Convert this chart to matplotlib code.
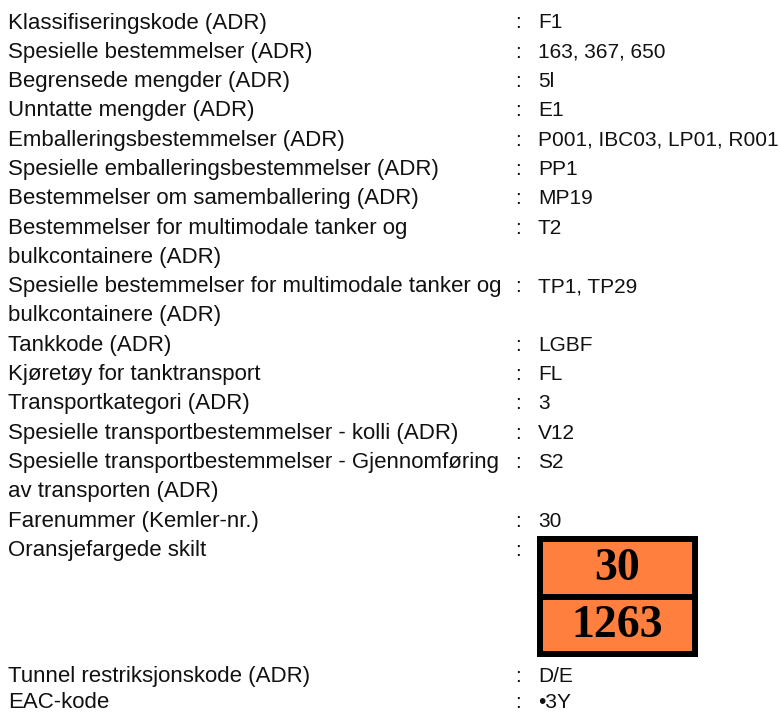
import matplotlib.pyplot as plt
from matplotlib.patches import Rectangle

labels = [
    "Klassifiseringskode (ADR)",
    "Spesielle bestemmelser (ADR)",
    "Begrensede mengder (ADR)",
    "Unntatte mengder (ADR)",
    "Emballeringsbestemmelser (ADR)",
    "Spesielle emballeringsbestemmelser (ADR)",
    "Bestemmelser om samemballering (ADR)",
    "Bestemmelser for multimodale tanker og\nbulkcontainere (ADR)",
    "Spesielle bestemmelser for multimodale tanker og\nbulkcontainere (ADR)",
    "Tankkode (ADR)",
    "Kjøretøy for tanktransport",
    "Transportkategori (ADR)",
    "Spesielle transportbestemmelser - kolli (ADR)",
    "Spesielle transportbestemmelser - Gjennomføring\nav transporten (ADR)",
    "Farenummer (Kemler-nr.)",
]
values = ["F1", "163, 367, 650", "5l", "E1", "P001, IBC03, LP01, R001", "PP1",
          "MP19", "T2", "TP1, TP29", "LGBF", "FL", "3", "V12", "S2", "30"]

sign_label = "Oransjefargede skilt"
sign_top = "30"
sign_bottom = "1263"

tail_labels = ["Tunnel restriksjonskode (ADR)", "EAC-kode"]
tail_values = ["D/E", "•3Y"]

W, H = 781, 713
fig = plt.figure(figsize=(W / 100, H / 100), dpi=100)
ax = fig.add_axes([0, 0, 1, 1])
ax.set_xlim(0, W)
ax.set_ylim(H, 0)
ax.axis("off")

lab_font = dict(family=["Liberation Sans", "DejaVu Sans"], fontsize=16, color="#111111", va="baseline")
val_font = dict(lab_font, fontsize=15)
x_label, x_colon, x_value = 8, 518, 538
row0, step, off = 21, 29.3, 7.5

def put(k, label, value):
    lines = label.split("\n")
    for j, line in enumerate(lines):
        ax.text(x_label, row0 + (k + j) * step + off, line, ha="left", **lab_font)
    y = row0 + k * step + off
    ax.text(x_colon, y, ":", ha="center", **val_font)
    if value:
        ax.text(x_value, y, value, ha="left", **val_font)
    return k + len(lines)

k = 0
for lab, val in zip(labels, values):
    k = put(k, lab, val)

# orange plate
put(k, sign_label, "")
sx0, sx1, sy0, sy1, b = 537, 698, 536, 657, 6
ax.add_patch(Rectangle((sx0, sy0), sx1 - sx0, sy1 - sy0, facecolor="black", edgecolor="none"))
mid = (sy0 + sy1) / 2
ax.add_patch(Rectangle((sx0 + b, sy0 + b), sx1 - sx0 - 2 * b, mid - b / 2 - sy0 - b,
                       facecolor="#FF7F3F", edgecolor="none"))
ax.add_patch(Rectangle((sx0 + b, mid + b / 2), sx1 - sx0 - 2 * b, sy1 - b - mid - b / 2,
                       facecolor="#FF7F3F", edgecolor="none"))
cx = (sx0 + sx1) / 2
serif = dict(family=["Liberation Serif", "DejaVu Serif"], fontsize=33, fontweight="bold",
             color="black", ha="center", va="center")
ax.text(cx, (sy0 + b + mid - b / 2) / 2 + 1, sign_top, **serif)
ax.text(cx, (mid + b / 2 + sy1 - b) / 2 + 1, sign_bottom, **serif)

for i, (lab, val) in enumerate(zip(tail_labels, tail_values)):
    y = 682 + i * 25.5
    ax.text(x_label, y, lab, ha="left", **lab_font)
    ax.text(x_colon, y, ":", ha="center", **val_font)
    ax.text(x_value, y, val, ha="left", **val_font)

fig.savefig("out.png", dpi=100)
